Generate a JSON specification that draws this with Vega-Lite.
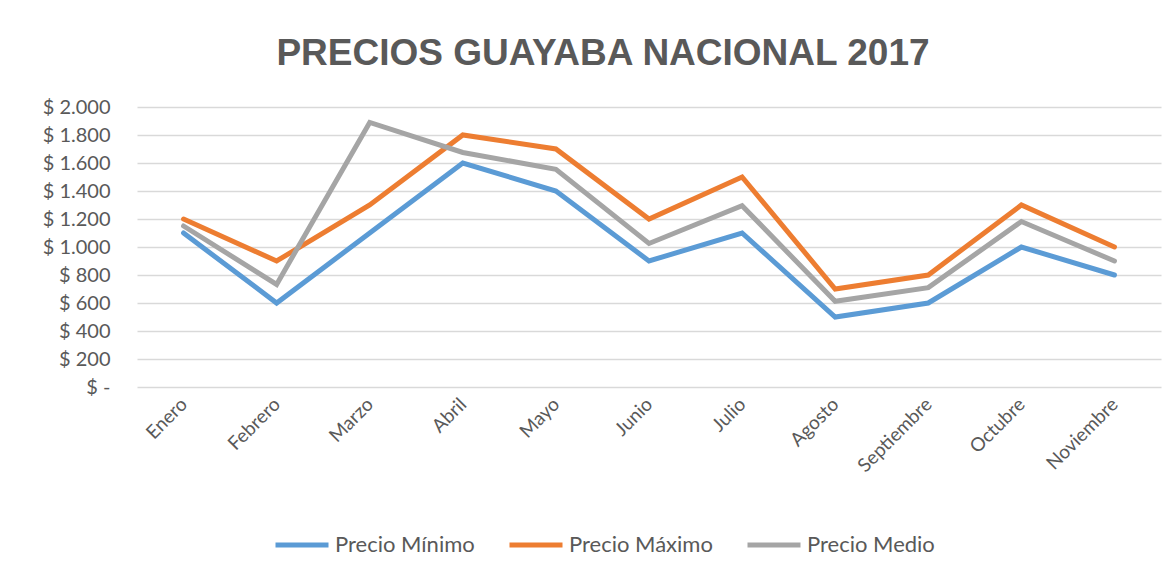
{
  "$schema": "https://vega.github.io/schema/vega-lite/v6.json",
  "width": 1024,
  "height": 280,
  "autosize": {"type": "none"},
  "padding": {"left": 137, "top": 107, "right": 8, "bottom": 189},
  "background": "white",
  "title": {
    "text": "PRECIOS GUAYABA NACIONAL 2017",
    "font": "Liberation Sans",
    "fontSize": 37,
    "fontWeight": "bold",
    "color": "#595959",
    "anchor": "middle",
    "frame": "group",
    "dx": -46,
    "offset": 24
  },
  "data": {
    "values": [
      {"mes": "Enero", "serie": "Precio Mínimo", "valor": 1100},
      {"mes": "Febrero", "serie": "Precio Mínimo", "valor": 600},
      {"mes": "Marzo", "serie": "Precio Mínimo", "valor": 1100},
      {"mes": "Abril", "serie": "Precio Mínimo", "valor": 1600},
      {"mes": "Mayo", "serie": "Precio Mínimo", "valor": 1400},
      {"mes": "Junio", "serie": "Precio Mínimo", "valor": 900},
      {"mes": "Julio", "serie": "Precio Mínimo", "valor": 1100},
      {"mes": "Agosto", "serie": "Precio Mínimo", "valor": 500},
      {"mes": "Septiembre", "serie": "Precio Mínimo", "valor": 600},
      {"mes": "Octubre", "serie": "Precio Mínimo", "valor": 1000},
      {"mes": "Noviembre", "serie": "Precio Mínimo", "valor": 800},
      {"mes": "Enero", "serie": "Precio Máximo", "valor": 1200},
      {"mes": "Febrero", "serie": "Precio Máximo", "valor": 900},
      {"mes": "Marzo", "serie": "Precio Máximo", "valor": 1300},
      {"mes": "Abril", "serie": "Precio Máximo", "valor": 1800},
      {"mes": "Mayo", "serie": "Precio Máximo", "valor": 1700},
      {"mes": "Junio", "serie": "Precio Máximo", "valor": 1200},
      {"mes": "Julio", "serie": "Precio Máximo", "valor": 1500},
      {"mes": "Agosto", "serie": "Precio Máximo", "valor": 700},
      {"mes": "Septiembre", "serie": "Precio Máximo", "valor": 800},
      {"mes": "Octubre", "serie": "Precio Máximo", "valor": 1300},
      {"mes": "Noviembre", "serie": "Precio Máximo", "valor": 1000},
      {"mes": "Enero", "serie": "Precio Medio", "valor": 1150},
      {"mes": "Febrero", "serie": "Precio Medio", "valor": 733},
      {"mes": "Marzo", "serie": "Precio Medio", "valor": 1890},
      {"mes": "Abril", "serie": "Precio Medio", "valor": 1675},
      {"mes": "Mayo", "serie": "Precio Medio", "valor": 1555},
      {"mes": "Junio", "serie": "Precio Medio", "valor": 1025},
      {"mes": "Julio", "serie": "Precio Medio", "valor": 1295},
      {"mes": "Agosto", "serie": "Precio Medio", "valor": 612},
      {"mes": "Septiembre", "serie": "Precio Medio", "valor": 710},
      {"mes": "Octubre", "serie": "Precio Medio", "valor": 1182},
      {"mes": "Noviembre", "serie": "Precio Medio", "valor": 900}
    ]
  },
  "mark": {"type": "line", "strokeWidth": 5, "strokeCap": "round", "strokeJoin": "miter"},
  "encoding": {
    "x": {
      "field": "mes",
      "type": "ordinal",
      "sort": ["Enero", "Febrero", "Marzo", "Abril", "Mayo", "Junio", "Julio", "Agosto", "Septiembre", "Octubre", "Noviembre"],
      "scale": {"type": "point", "padding": 0.5},
      "axis": {
        "title": null,
        "labelAngle": -45,
        "labelAlign": "right",
        "labelBaseline": "middle",
        "labelPadding": 14,
        "labelFont": "Lato",
        "labelFontSize": 19,
        "labelColor": "#595959",
        "ticks": false,
        "domain": false,
        "grid": false
      }
    },
    "y": {
      "field": "valor",
      "type": "quantitative",
      "scale": {"domain": [0, 2000], "nice": false},
      "axis": {
        "title": null,
        "values": [0, 200, 400, 600, 800, 1000, 1200, 1400, 1600, 1800, 2000],
        "labelExpr": "datum.value == 0 ? '$ -  ' : '$ ' + replace(format(datum.value, ','), ',', '.')",
        "labelFont": "Lato",
        "labelFontSize": 20,
        "labelColor": "#595959",
        "labelPadding": 27,
        "ticks": false,
        "domain": false,
        "grid": true,
        "gridColor": "#D9D9D9",
        "gridWidth": 1.5
      }
    },
    "color": {
      "field": "serie",
      "type": "nominal",
      "scale": {
        "domain": ["Precio Mínimo", "Precio Máximo", "Precio Medio"],
        "range": ["#5B9BD5", "#ED7D31", "#A5A5A5"]
      },
      "legend": {
        "title": null,
        "orient": "none",
        "direction": "horizontal",
        "legendX": 136,
        "legendY": 409,
        "symbolType": "stroke",
        "symbolStrokeWidth": 5,
        "symbolSize": 2809,
        "labelFont": "Lato",
        "labelFontSize": 22,
        "labelColor": "#595959",
        "labelOffset": 4,
        "columnPadding": 24
      }
    }
  },
  "config": {
    "view": {"stroke": null}
  }
}
